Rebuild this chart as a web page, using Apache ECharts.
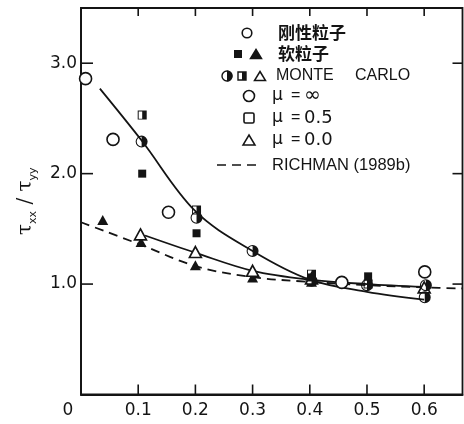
<!DOCTYPE html>
<html>
<head>
<meta charset="utf-8">
<script src="https://cdn.jsdelivr.net/npm/echarts@6/dist/echarts.min.js"></script>
<style>
html,body{margin:0;padding:0;background:#fff;}
#c{width:464px;height:424px;}
</style>
</head>
<body>
<div id="c"></div>
<script>
// ---- data ----
const xTicks = [0, 0.1, 0.2, 0.3, 0.4, 0.5, 0.6];
const yTicks = [1.0, 2.0, 3.0];
const X_MAX = 0.667, Y_MAX = 3.5;

// 刚性粒子 (open circles)
const rigidParticles = [[0.008, 2.86], [0.056, 2.31], [0.153, 1.65], [0.456, 1.015], [0.601, 1.11]];
// 软粒子 filled squares / filled triangles
const softSquares = [[0.107, 2.00], [0.202, 1.46], [0.403, 1.06], [0.502, 1.07]];
const softTriangles = [[0.038, 1.58], [0.105, 1.38], [0.200, 1.17], [0.300, 1.06], [0.403, 1.02]];
// MONTE CARLO
const mcMuInf = [[0.106, 2.29], [0.202, 1.60], [0.300, 1.30], [0.403, 1.03], [0.500, 0.99], [0.601, 0.88], [0.603, 0.99]];
const mcMu05 = [[0.107, 2.53], [0.202, 1.67], [0.403, 1.09], [0.502, 1.00]];
const mcMu0 = [[0.104, 1.45], [0.200, 1.29], [0.300, 1.12], [0.403, 1.05], [0.600, 0.97]];
// fitted curves
const curveMuInf = [[0.033, 2.77], [0.106, 2.30], [0.200, 1.66], [0.300, 1.30], [0.400, 1.04], [0.500, 0.93], [0.600, 0.86]];
const curveMu0 = [[0.112, 1.44], [0.202, 1.28], [0.300, 1.12], [0.400, 1.04], [0.500, 1.00], [0.600, 0.975]];
const richman = [[0.0, 1.56], [0.106, 1.353], [0.202, 1.16], [0.300, 1.063], [0.400, 1.02], [0.500, 0.99], [0.600, 0.97], [0.667, 0.96]];

const INK = '#141414';
const FONT = 'DejaVu Sans';
const halfCircle = 'path://M0,-10A10,10,0,1,1,0,10A10,10,0,1,1,0,-10ZM0,-8.2A8.2,8.2,0,0,0,0,8.2Z';
const halfSquare = 'path://M-10,-10L10,-10L10,10L-10,10ZM-7.8,-7.8L-7.8,7.8L0,7.8L0,-7.8Z';

const chart = echarts.init(document.getElementById('c'), null, {renderer: 'canvas'});

function openStyle() { return {color: '#fff', borderColor: INK, borderWidth: 1.6, opacity: 1}; }

const CJK = 'bold 17px "Noto Sans CJK SC"';
const LAT = '16px "Liberation Sans"';
const NUM = '17px "DejaVu Sans"';
const legendTexts = [
  {x: 278, y: 33, text: '刚性粒子', font: CJK},
  {x: 278, y: 54, text: '软粒子', font: CJK},
  {x: 276, y: 76, text: 'MONTE', font: LAT},
  {x: 355, y: 76, text: 'CARLO', font: LAT},
  {x: 272, y: 96, text: 'μ', font: NUM},
  {x: 291, y: 96, text: '=', font: LAT},
  {x: 304, y: 96, text: '∞', font: '20px "DejaVu Sans"'},
  {x: 272, y: 118, text: 'μ', font: NUM},
  {x: 291, y: 118, text: '=', font: LAT},
  {x: 304, y: 118, text: '0.5', font: '18px "DejaVu Sans"'},
  {x: 272, y: 140, text: 'μ', font: NUM},
  {x: 291, y: 140, text: '=', font: LAT},
  {x: 304, y: 140, text: '0.0', font: '18px "DejaVu Sans"'},
  {x: 272, y: 165, text: 'RICHMAN (1989b)', font: '16.5px "Liberation Sans"'}
];

const graphics = [];
legendTexts.forEach(function (r) {
  graphics.push({
    type: 'text', x: r.x, y: r.y,
    style: {text: r.text, fill: INK, font: r.font, textVerticalAlign: 'middle', verticalAlign: 'middle'}
  });
});
function tri(cx, cy, w, h, filled) {
  return {type: 'polygon', shape: {points: [[cx, cy - h / 2], [cx + w / 2, cy + h / 2], [cx - w / 2, cy + h / 2]]},
    style: {fill: filled ? INK : '#fff', stroke: INK, lineWidth: 1.5}};
}
graphics.push(
  {type: 'circle', shape: {cx: 247, cy: 33, r: 4.8}, style: {fill: '#fff', stroke: INK, lineWidth: 1.6}},
  {type: 'rect', shape: {x: 234, y: 50, width: 8, height: 8}, style: {fill: INK}},
  tri(256, 54, 11, 9, true),
  {type: 'circle', shape: {cx: 227, cy: 76, r: 5}, style: {fill: '#fff', stroke: INK, lineWidth: 1.4}},
  {type: 'sector', shape: {cx: 227, cy: 76, r: 5.5, r0: 0, startAngle: -Math.PI / 2, endAngle: Math.PI / 2}, style: {fill: INK}},
  {type: 'rect', shape: {x: 238, y: 72, width: 8, height: 8}, style: {fill: '#fff', stroke: INK, lineWidth: 1.4}},
  {type: 'rect', shape: {x: 242, y: 72, width: 4, height: 8}, style: {fill: INK}},
  tri(260, 76, 11, 9, false),
  {type: 'circle', shape: {cx: 249, cy: 96, r: 5.5}, style: {fill: '#fff', stroke: INK, lineWidth: 1.6}},
  {type: 'rect', shape: {x: 244, y: 113, width: 10, height: 10, r: 1.5}, style: {fill: '#fff', stroke: INK, lineWidth: 1.6}},
  tri(249, 140, 12, 10, false),
  {type: 'line', shape: {x1: 217, y1: 165, x2: 258, y2: 165}, style: {stroke: INK, lineWidth: 1.5, lineDash: [9, 6]}}
);

function scatter(name, data, symbol, size, style) {
  style.opacity = 1;
  return {name: name, type: 'scatter', data: data, symbol: symbol, symbolSize: size, itemStyle: style, z: 5, silent: true};
}
function curve(name, data, dashed) {
  return {name: name, type: 'line', data: data, smooth: 0.35, showSymbol: false, symbol: 'none',
    lineStyle: {color: INK, width: 1.8, type: dashed ? [9, 6] : 'solid', opacity: 1}, z: 2, silent: true};
}
// frame tick marks (drawn as thin symbols placed through the axis scales)
function tickMarks(data, size, offset) {
  return {type: 'scatter', data: data, symbol: 'rect', symbolSize: size, symbolOffset: offset,
    itemStyle: {color: INK, opacity: 1}, clip: false, silent: true, z: 4};
}
const ticksX = xTicks.slice(1);
const bottomTicks = ticksX.map(function (v) { return [v, 0]; });
const topTicks = ticksX.map(function (v) { return [v, Y_MAX]; });
const leftTicks = yTicks.map(function (v) { return [0, v]; });
const rightTicks = yTicks.map(function (v) { return [X_MAX, v]; });

const lineStyle = {color: INK, width: 1.8};

const option = {
  backgroundColor: '#fff',
  animation: false,
  grid: {left: 81, top: 8, right: 1.5, bottom: 29.5, containLabel: false,
    show: true, borderColor: INK, borderWidth: 1.8, backgroundColor: 'transparent'},
  xAxis: {
    type: 'value', min: 0, max: X_MAX, interval: 0.1, position: 'bottom',
    axisLine: {show: true, onZero: false, lineStyle: lineStyle},
    axisTick: {show: false},
    splitLine: {show: false},
    axisLabel: {
      show: true, color: INK, fontFamily: FONT, fontSize: 17, margin: 8, showMaxLabel: false,
      formatter: function (v) {
        if (Math.abs(v) < 1e-9) return '{z|0}';
        return xTicks.indexOf(Math.round(v * 10) / 10) >= 0 ? v.toFixed(1) : '';
      },
      rich: {z: {fontFamily: FONT, fontSize: 17, color: INK, padding: [0, 26, 0, 0]}}
    }
  },
  yAxis: {
    type: 'value', min: 0, max: Y_MAX, interval: 1, position: 'left',
    name: '{t|τ}{s|xx}{t| / τ}{s|yy}', nameLocation: 'middle', nameGap: 42,
    nameTextStyle: {
      rich: {
        t: {fontFamily: 'DejaVu Serif', fontSize: 20, color: INK, lineHeight: 26},
        s: {fontFamily: FONT, fontSize: 11, color: INK, lineHeight: 26, verticalAlign: 'bottom'}
      }
    },
    axisLine: {show: true, onZero: false, lineStyle: lineStyle},
    axisTick: {show: false},
    splitLine: {show: false},
    axisLabel: {
      show: true, color: INK, fontFamily: FONT, fontSize: 17, margin: 4, showMaxLabel: false,
      formatter: function (v) { return yTicks.indexOf(v) >= 0 ? v.toFixed(1) : ''; }
    }
  },
  series: [
    tickMarks(bottomTicks, [1.6, 10], [0, -5]),
    tickMarks(topTicks, [1.6, 8], [0, 4]),
    tickMarks(leftTicks, [12, 1.6], [6, 0]),
    tickMarks(rightTicks, [10, 1.6], [-5, 0]),
    curve('RICHMAN (1989b)', richman, true),
    curve('fit μ=∞', curveMuInf, false),
    curve('fit μ=0.0', curveMu0, false),
    scatter('软粒子 ▲', softTriangles, 'triangle', [11, 10], {color: INK}),
    scatter('MC μ=0.0', mcMu0, 'triangle', [12, 11], openStyle()),
    scatter('软粒子 ■', softSquares, 'rect', 8, {color: INK}),
    scatter('MC μ=0.5', mcMu05, halfSquare, 9, {color: INK, borderWidth: 0}),
    scatter('MC μ=∞', mcMuInf, halfCircle, 12, {color: INK, borderWidth: 0}),
    scatter('刚性粒子', rigidParticles, 'circle', 12, openStyle())
  ],
  graphic: graphics
};
chart.setOption(option);
</script>
</body>
</html>
